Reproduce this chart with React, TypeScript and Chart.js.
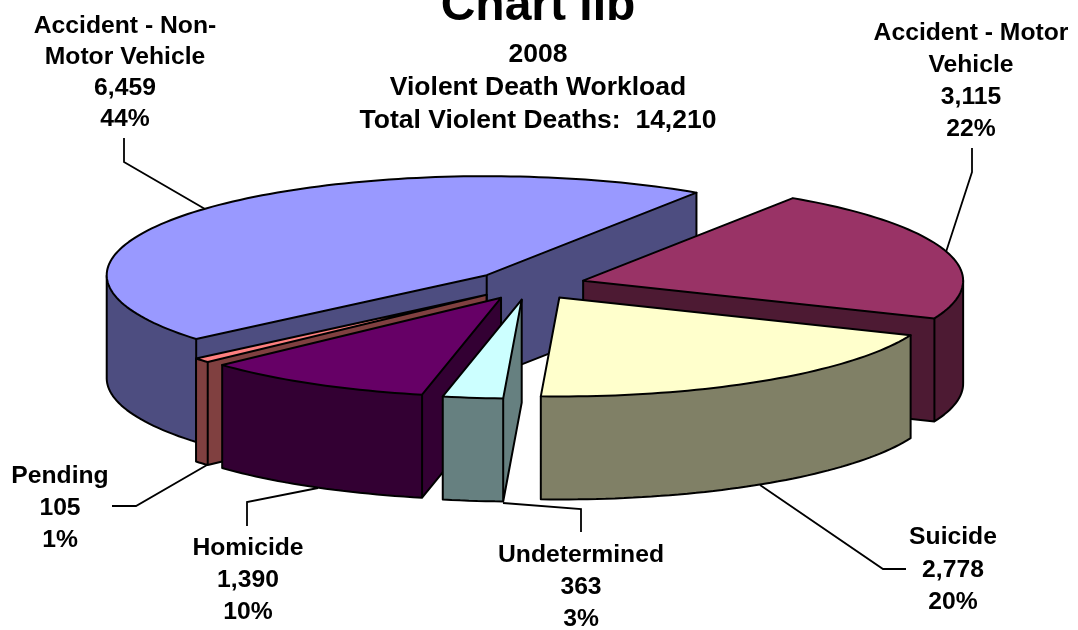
import React, { useEffect, useRef } from "react";
import { Chart, registerables } from "chart.js";

Chart.register(...registerables);

// ---- data ----
const categories = ["Accident - Motor Vehicle", "Suicide", "Undetermined", "Homicide", "Pending", "Accident - Non-Motor Vehicle"];
const deaths = [3115, 2778, 363, 1390, 105, 6459];
const percents = ["22%", "20%", "3%", "10%", "1%", "44%"];
const chartTitle = "Chart IIb";
const subtitleLines = ["2008", "Violent Death Workload", "Total Violent Deaths:  14,210"];

// ---- styling ----
const topColors = ["#993366", "#FFFFCC", "#CCFFFF", "#660066", "#FF8080", "#9999FF"];
const wallColors = ["#4D1A33", "#808066", "#668080", "#330033", "#804040", "#4D4D80"];
const EXPLODE = 0.149;
const paintOrder = [5, 0, 1, 4, 3, 2];
const TILT = 99 / 380;
const DEPTH = 103;
const FONT = '"Liberation Sans", Arial, sans-serif';

// label layout: wrapped name lines, centre x, first baseline, line step
const labelLayout = [
  { lines: ["Accident - Motor", "Vehicle"], x: 971, y: 40, step: 32 },
  { lines: ["Suicide"], x: 953, y: 544, step: 32.5 },
  { lines: ["Undetermined"], x: 581, y: 562, step: 32 },
  { lines: ["Homicide"], x: 248, y: 555, step: 32 },
  { lines: ["Pending"], x: 60, y: 483, step: 32 },
  { lines: ["Accident - Non-", "Motor Vehicle"], x: 125, y: 33, step: 31 },
];
const leaderLines = [
  [[972, 148], [972, 172], [946, 252]],
  [[760, 485], [883, 569], [906, 569]],
  [[503, 503], [581, 509], [581, 532]],
  [[318, 488], [247, 502], [247, 526]],
  [[207, 465], [136, 506], [112, 506]],
  [[124, 138], [124, 162], [205, 209]],
];

const pie3dPlugin = {
  id: "pie3d",
  beforeDatasetsDraw(chart: any) {
    const ctx: CanvasRenderingContext2D = chart.ctx;
    const arcs = chart.getDatasetMeta(0).data;
    ctx.save();
    ctx.lineJoin = "round";
    ctx.lineCap = "round";
    ctx.strokeStyle = "#000";
    ctx.lineWidth = 2;

    for (const i of paintOrder) {
      const el = arcs[i];
      const { x, y, startAngle, endAngle, outerRadius } = el;
      const mid = (startAngle + endAngle) / 2;
      const e = EXPLODE * outerRadius;
      const ox = x + Math.cos(mid) * e;
      const oy = y + Math.sin(mid) * e * TILT;
      const project = (a: number) => [
        ox + Math.cos(a) * outerRadius,
        oy + Math.sin(a) * outerRadius * TILT,
      ];
      const steps = Math.max(4, Math.ceil((endAngle - startAngle) * 40));
      const poly: number[][] = [[ox, oy]];
      for (let s = 0; s <= steps; s++) poly.push(project(startAngle + ((endAngle - startAngle) * s) / steps));
      const n = poly.length;
      const visible = (k: number) => poly[(k + 1) % n][0] - poly[k][0] < 0;

      // walls as one path, so no seams show between the quads
      ctx.fillStyle = wallColors[i];
      ctx.beginPath();
      for (let k = 0; k < n; k++) {
        if (!visible(k)) continue;
        const a = poly[k];
        const b = poly[(k + 1) % n];
        ctx.moveTo(a[0], a[1]);
        ctx.lineTo(b[0], b[1]);
        ctx.lineTo(b[0], b[1] + DEPTH);
        ctx.lineTo(a[0], a[1] + DEPTH);
        ctx.closePath();
      }
      ctx.fill();
      // bottom edges
      ctx.beginPath();
      for (let k = 0; k < n; k++) {
        if (!visible(k)) continue;
        const a = poly[k];
        const b = poly[(k + 1) % n];
        ctx.moveTo(a[0], a[1] + DEPTH);
        ctx.lineTo(b[0], b[1] + DEPTH);
      }
      // vertical edges at corners and at silhouette
      for (let k = 0; k < n; k++) {
        const prev = visible((k - 1 + n) % n);
        const next = visible(k);
        const corner = k === 0 || k === 1 || k === n - 1;
        if ((prev || next) && (corner || prev !== next)) {
          ctx.moveTo(poly[k][0], poly[k][1]);
          ctx.lineTo(poly[k][0], poly[k][1] + DEPTH);
        }
      }
      ctx.stroke();

      // top face
      ctx.beginPath();
      poly.forEach((p, k) => (k === 0 ? ctx.moveTo(p[0], p[1]) : ctx.lineTo(p[0], p[1])));
      ctx.closePath();
      ctx.fillStyle = topColors[i];
      ctx.fill();
      ctx.stroke();
    }
    ctx.restore();
    return false;
  },
  afterDraw(chart: any) {
    const ctx: CanvasRenderingContext2D = chart.ctx;
    ctx.save();
    ctx.strokeStyle = "#000";
    ctx.lineWidth = 1.8;
    ctx.lineJoin = "miter";
    for (const line of leaderLines) {
      ctx.beginPath();
      line.forEach((p, k) => (k === 0 ? ctx.moveTo(p[0], p[1]) : ctx.lineTo(p[0], p[1])));
      ctx.stroke();
    }
    ctx.fillStyle = "#000";
    ctx.textAlign = "center";
    ctx.textBaseline = "alphabetic";
    ctx.font = `bold 48px ${FONT}`;
    ctx.fillText(chartTitle, 538, 20);
    ctx.font = `bold 26.5px ${FONT}`;
    const subY = [62, 95, 128];
    subtitleLines.forEach((t, k) => ctx.fillText(t, 538, subY[k]));
    ctx.font = `bold 24.7px ${FONT}`;
    labelLayout.forEach((l, i) => {
      const rows = [...l.lines, deaths[i].toLocaleString("en-US"), percents[i]];
      rows.forEach((t, k) => ctx.fillText(t, l.x, l.y + k * l.step));
    });
    ctx.restore();
  },
};

export default function App() {
  const ref = useRef<HTMLCanvasElement>(null);
  useEffect(() => {
    document.body.style.margin = "0";
    const chart = new Chart(ref.current!, {
      type: "pie",
      data: {
        labels: categories,
        datasets: [{ data: deaths, backgroundColor: topColors }],
      },
      options: {
        animation: false,
        responsive: false,
        rotation: 33.5,
        radius: 380,
        layout: { padding: { right: 20, bottom: 60 } },
        plugins: { legend: { display: false }, tooltip: { enabled: false }, title: { display: false } },
      },
      plugins: [pie3dPlugin],
    } as any);
    return () => chart.destroy();
  }, []);
  return <canvas ref={ref} width={1078} height={630} style={{ display: "block", position: "absolute", left: 0, top: 0 }} />;
}
